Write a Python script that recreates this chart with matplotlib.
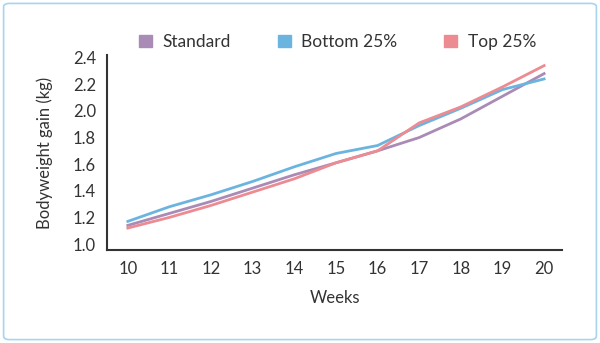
import matplotlib.pyplot as plt
from matplotlib.patches import FancyBboxPatch, Patch

plt.rcParams['font.family'] = ['Lato', 'DejaVu Sans']

weeks = [10, 11, 12, 13, 14, 15, 16, 17, 18, 19, 20]
standard = [1.14, 1.23, 1.32, 1.42, 1.52, 1.61, 1.70, 1.80, 1.94, 2.11, 2.28]
bottom25 = [1.17, 1.28, 1.37, 1.47, 1.58, 1.68, 1.74, 1.89, 2.02, 2.16, 2.24]
top25 = [1.12, 1.20, 1.29, 1.39, 1.49, 1.61, 1.70, 1.91, 2.03, 2.18, 2.34]
yticks = [1.0, 1.2, 1.4, 1.6, 1.8, 2.0, 2.2, 2.4]

c_std = '#a98bb5'
c_bot = '#6cb4e0'
c_top = '#ec8b91'
txt = '#333333'

fig = plt.figure(figsize=(6, 3.43), dpi=100)
fig.patches.append(FancyBboxPatch((0.006, 0.01), 0.988, 0.98,
                                  boxstyle='round,pad=0,rounding_size=0.01',
                                  transform=fig.transFigure, fill=False,
                                  edgecolor='#a8d4ee', linewidth=1.2))

ax = fig.add_axes([107 / 600, 1 - 250 / 343, (562 - 107) / 600, (250 - 55) / 343])
ax.plot(weeks, standard, color=c_std, lw=2)
ax.plot(weeks, bottom25, color=c_bot, lw=2)
ax.plot(weeks, top25, color=c_top, lw=2)

ax.set_xlim(9.5, 20.43)
ax.set_ylim(0.955, 2.42)
ax.set_xticks(weeks)
ax.set_yticks(yticks)
ax.set_yticklabels(['%.1f' % v for v in yticks])
ax.tick_params(length=0, labelsize=12, colors=txt, pad=8)
for s in ['top', 'right']:
    ax.spines[s].set_visible(False)
for s in ['left', 'bottom']:
    ax.spines[s].set_color('#333333')
    ax.spines[s].set_linewidth(1.5)

ax.set_xlabel('Weeks', fontsize=12, color=txt, labelpad=9)
ax.set_ylabel('Bodyweight gain (kg)', fontsize=12, color=txt, labelpad=14)

handles = [Patch(color=c_std, label='Standard'),
           Patch(color=c_bot, label='Bottom 25%'),
           Patch(color=c_top, label='Top 25%')]
fig.legend(handles=handles, loc='center', bbox_to_anchor=(0.563, 1 - 42 / 343),
           ncol=3, frameon=False, fontsize=12.5, handlelength=0.75, handleheight=0.75,
           columnspacing=2.7, handletextpad=0.6, labelcolor=txt)

fig.savefig('out.png', dpi=100)
